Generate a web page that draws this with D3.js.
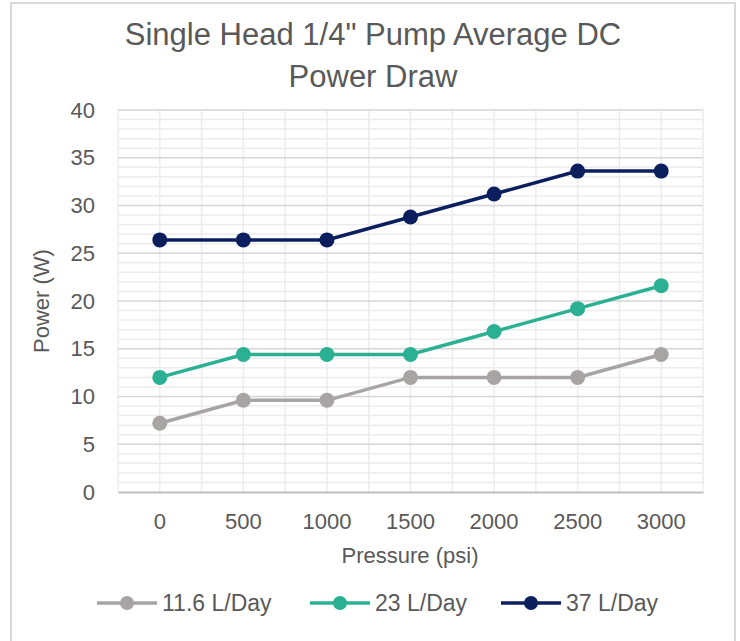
<!DOCTYPE html>
<html>
<head>
<meta charset="utf-8">
<script src="https://cdn.jsdelivr.net/npm/d3@7"></script>
<style>
    html, body { margin: 0; padding: 0; background: #fff; }
    #chart { width: 740px; height: 641px; }
    text { font-family: "Liberation Sans", Arial, sans-serif; fill: #595959; }
</style>
</head>
<body>
<div id="chart"></div>
<script>
// Data
const categories = ["0", "500", "1000", "1500", "2000", "2500", "3000"];
const seriesNames = ["11.6 L/Day", "23 L/Day", "37 L/Day"];
const values116 = [7.2, 9.6, 9.6, 12, 12, 12, 14.4];
const values23 = [12, 14.4, 14.4, 14.4, 16.8, 19.2, 21.6];
const values37 = [26.4, 26.4, 26.4, 28.8, 31.2, 33.6, 33.6];
const yTicks = [0, 5, 10, 15, 20, 25, 30, 35, 40];
const titleLines = ["Single Head 1/4\" Pump Average DC", "Power Draw"];

const series = [
    { name: seriesNames[0], values: values116, color: "#a8a4a4" },
    { name: seriesNames[1], values: values23, color: "#2bb093" },
    { name: seriesNames[2], values: values37, color: "#0b1f5e" }
];

const W = 740, H = 641;
const margin = { top: 110, right: 37, bottom: 149, left: 118 };
const width = W - margin.left - margin.right;
const height = H - margin.top - margin.bottom;

const svg = d3.select("#chart")
    .append("svg")
    .attr("width", W)
    .attr("height", H);

// Outer chart border
svg.append("rect")
    .attr("x", 11).attr("y", 3)
    .attr("width", 724).attr("height", 660)
    .attr("fill", "#fff")
    .attr("stroke", "#d9d9d9")
    .attr("stroke-width", 2);

// Title
svg.append("text")
    .attr("text-anchor", "middle")
    .attr("font-size", 31)
    .selectAll("tspan")
    .data(titleLines)
    .enter()
    .append("tspan")
    .attr("x", 373)
    .attr("y", (d, i) => 45 + i * 42)
    .text(d => d);

const g = svg.append("g")
    .attr("transform", `translate(${margin.left},${margin.top})`);

const x = d3.scaleBand()
    .domain(categories)
    .range([0, width])
    .padding(0);

const y = d3.scaleLinear()
    .domain([0, 40])
    .range([height, 0]);

// Minor horizontal gridlines
g.append("g")
 .selectAll("line")
 .data(d3.range(0, 41).filter(v => v % 5 !== 0))
 .enter()
 .append("line")
 .attr("x1", 0).attr("x2", width)
 .attr("y1", d => y(d)).attr("y2", d => y(d))
 .attr("stroke", "#ececec")
 .attr("stroke-width", 1.5);

// Vertical gridlines at band edges and centres
const vLines = [];
categories.forEach(c => {
    vLines.push(x(c));
    vLines.push(x(c) + x.bandwidth() / 2);
});
vLines.push(width);
g.append("g")
 .selectAll("line")
 .data(vLines)
 .enter()
 .append("line")
 .attr("x1", d => d).attr("x2", d => d)
 .attr("y1", 0).attr("y2", height)
 .attr("stroke", "#ececec")
 .attr("stroke-width", 1.5);

// Major horizontal gridlines
g.append("g")
 .selectAll("line")
 .data(yTicks.filter(v => v > 0))
 .enter()
 .append("line")
 .attr("x1", 0).attr("x2", width)
 .attr("y1", d => y(d)).attr("y2", d => y(d))
 .attr("stroke", "#d6d6d6")
 .attr("stroke-width", 1.5);

// X axis
const xAxis = g.append("g")
 .attr("transform", `translate(0,${height})`)
 .call(d3.axisBottom(x).tickSize(0).tickPadding(21));
xAxis.select(".domain").attr("stroke", "#bfbfbf").attr("stroke-width", 2);
xAxis.selectAll("text").attr("font-size", 22).style("fill", "#595959");

// Y axis
const yAxis = g.append("g")
 .call(d3.axisLeft(y).tickValues(yTicks).tickSize(0).tickPadding(23));
yAxis.select(".domain").remove();
yAxis.selectAll("text").attr("font-size", 22).style("fill", "#595959");

// Axis titles
svg.append("text")
    .attr("text-anchor", "middle")
    .attr("font-size", 22)
    .attr("x", 410)
    .attr("y", 563)
    .text("Pressure (psi)");

svg.append("text")
    .attr("text-anchor", "middle")
    .attr("font-size", 22)
    .attr("transform", `translate(49,${margin.top + height / 2}) rotate(-90)`)
    .text("Power (W)");

// Lines and markers
const line = d3.line()
    .x((d, i) => x(categories[i]) + x.bandwidth() / 2)
    .y(d => y(d));

series.forEach(s => {
    g.append("path")
     .datum(s.values)
     .attr("fill", "none")
     .attr("stroke", s.color)
     .attr("stroke-width", 3.5)
     .attr("d", line);

    g.selectAll(null)
     .data(s.values)
     .enter()
     .append("circle")
     .attr("cx", (d, i) => x(categories[i]) + x.bandwidth() / 2)
     .attr("cy", d => y(d))
     .attr("r", 7.5)
     .attr("fill", s.color);
});

// Legend
const legendX = [97, 310, 501];
const legend = svg.append("g");
series.forEach((s, i) => {
    const lg = legend.append("g")
        .attr("transform", `translate(${legendX[i]},603)`);
    lg.append("line")
      .attr("x1", 0).attr("x2", 60)
      .attr("stroke", s.color)
      .attr("stroke-width", 3.5);
    lg.append("circle")
      .attr("cx", 30).attr("r", 7)
      .attr("fill", s.color);
    lg.append("text")
      .attr("x", 65)
      .attr("y", 8)
      .attr("font-size", 23)
      .text(s.name);
});
</script>
</body>
</html>
